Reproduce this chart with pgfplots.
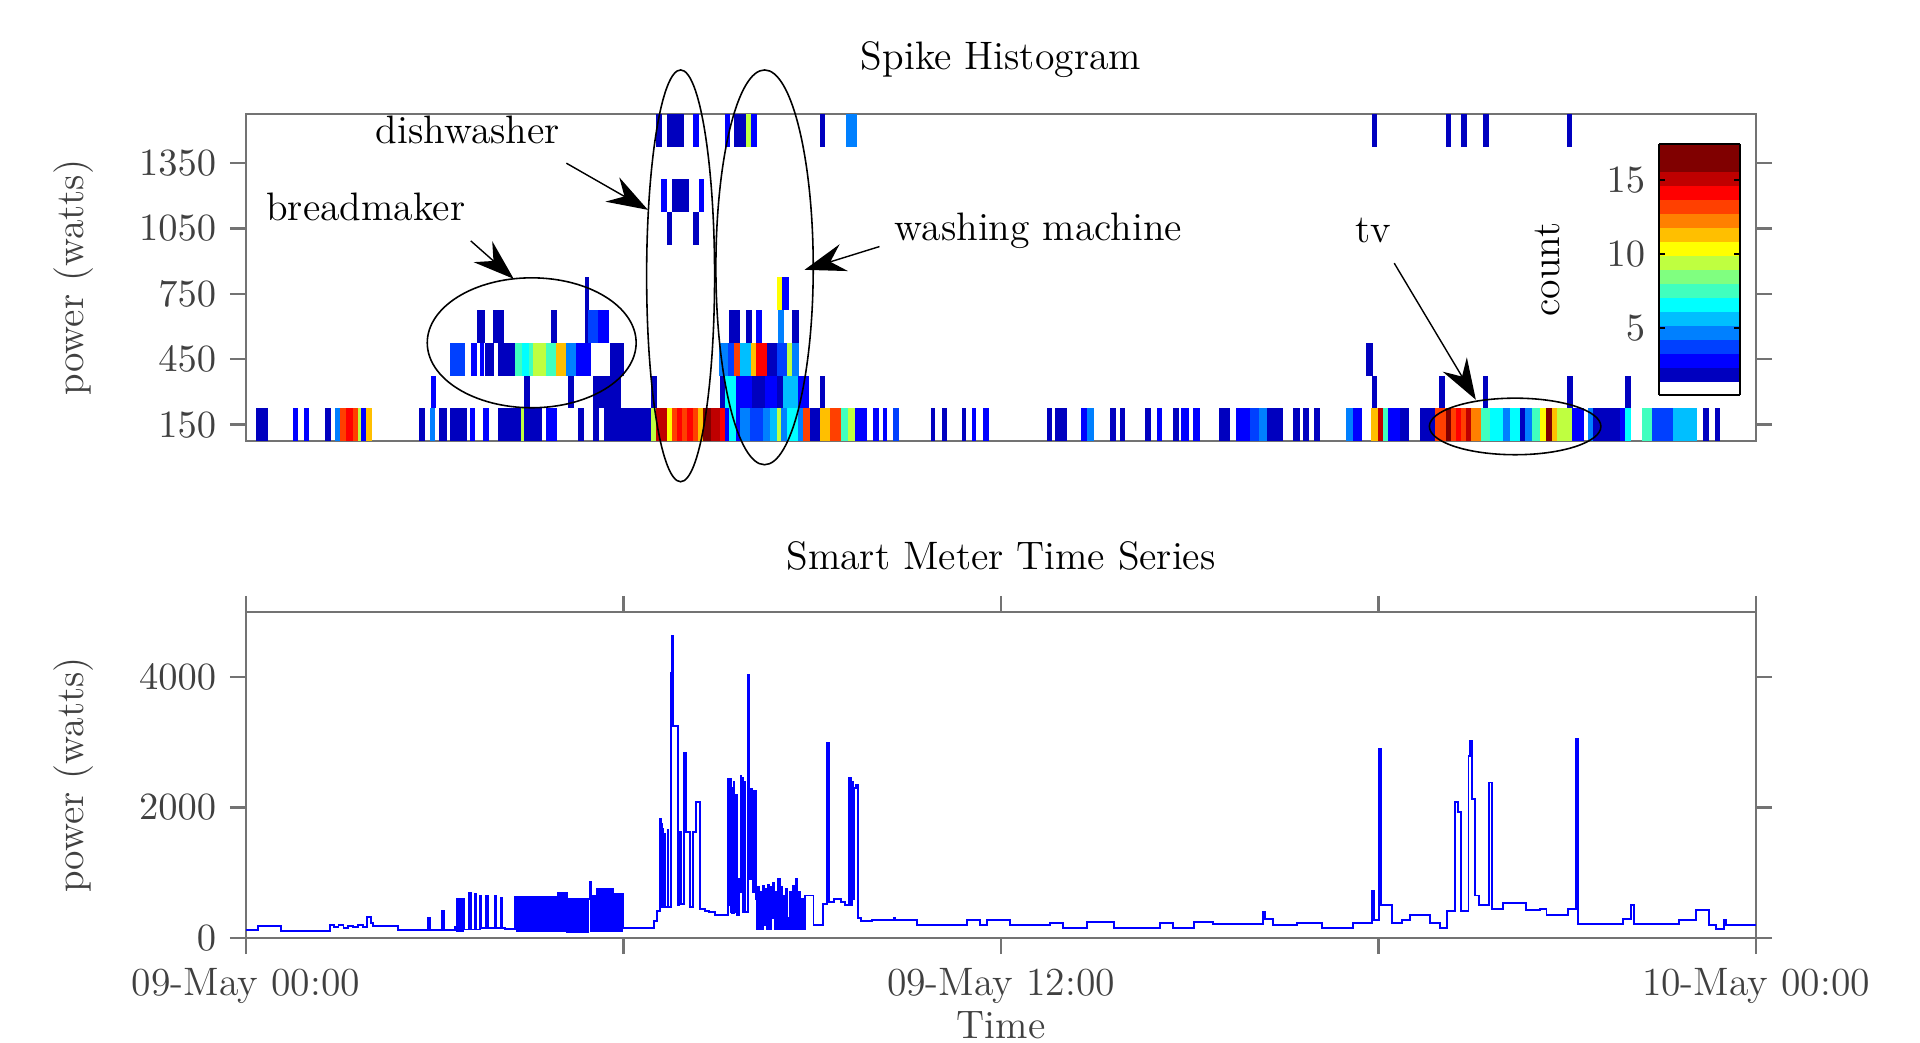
\documentclass[border=0pt]{standalone}
\usepackage{pgfplots}
\pgfplotsset{compat=1.18}
\usepackage{pgfplotstable}
\usetikzlibrary{arrows.meta,calc}
\pgfkeys{/pgf/number format/1000 sep={}}

% one histogram cell: starts at x0, width (hours -> cm), height = one 150 W row
\pgfdeclareplotmark{cell}{%
  \pgfmathsetlengthmacro\cellwl{\cellw*0.62917cm+0.008cm}%
  \pgfpathrectangle{\pgfpoint{-0.004cm}{-0.1635cm}}{\pgfpoint{\cellwl}{0.327cm}}%
  \pgfusepathqfill}

\pgfplotsset{
  colormap={whitejet}{rgb=(1,1,1) rgb=(0,0,0.75) rgb=(0,0,1) rgb=(0,0.25,1) rgb=(0,0.5,1)
    rgb=(0,0.75,1) rgb=(0,1,1) rgb=(0.25,1,0.75) rgb=(0.5,1,0.5) rgb=(0.75,1,0.25)
    rgb=(1,1,0) rgb=(1,0.75,0) rgb=(1,0.5,0) rgb=(1,0.25,0) rgb=(1,0,0) rgb=(0.75,0,0)
    rgb=(0.5,0,0) rgb=(0.5,0,0)},
  myaxis/.style={
    scale only axis, width=15.10cm, xmin=0, xmax=24,
    axis line style={draw=black!55, line width=0.7pt},
    tick style={draw=black!55, line width=0.7pt},
    tick align=outside, major tick length=0.16cm,
    tick label style={text=black!75},
    label style={text=black!75},
    every axis title shift=0pt,
    title style={text=black, at={(axis description cs:0.5,1)}, anchor=base},
    ylabel style={at={(axis description cs:-0.1139,0.5)}, anchor=center},
    scaled ticks=false,
  },
}

% histogram runs: start, end (hours), row centre (W), count
\pgfplotstableread{
x0 x1 y c
0.17 0.345 150 2
0.75 0.82 150 3
0.93 1.00 150 3
1.26 1.34 150 2
1.42 1.50 150 5
1.50 1.60 150 13
1.60 1.70 150 14
1.70 1.78 150 13
1.78 1.83 150 9
1.83 1.92 150 3
1.92 2.00 150 11
2.76 2.84 150 2
2.93 3.00 150 5
3.08 3.19 150 2
3.25 3.50 150 2
3.56 3.64 150 3
3.78 3.85 150 3
4.01 4.38 150 2
4.38 4.43 150 9
4.43 4.70 150 2
4.78 4.94 150 3
5.28 5.36 150 2
5.52 5.60 150 2
5.69 6.45 150 2
6.45 6.53 150 9
6.53 6.69 150 15
6.69 6.77 150 10
6.77 6.85 150 13
6.85 6.93 150 14
6.93 7.01 150 13
7.01 7.11 150 14
7.11 7.19 150 13
7.19 7.27 150 11
7.27 7.40 150 16
7.40 7.54 150 15
7.54 7.62 150 14
7.62 7.69 150 3
7.69 7.80 150 7
7.80 7.85 150 3
7.85 8.01 150 5
8.01 8.22 150 4
8.22 8.33 150 5
8.33 8.44 150 6
8.44 8.51 150 9
8.51 8.60 150 5
8.60 8.78 150 7
8.78 8.86 150 5
8.86 8.97 150 13
8.97 9.13 150 2
9.13 9.29 150 11
9.29 9.47 150 13
9.47 9.58 150 8
9.58 9.69 150 9
9.69 9.87 150 3
9.97 10.05 150 3
10.13 10.18 150 3
10.29 10.37 150 4
10.89 10.95 150 2
11.07 11.13 150 2
11.38 11.43 150 2
11.54 11.59 150 3
11.72 11.80 150 3
12.73 12.81 150 2
12.86 13.05 150 2
13.28 13.38 150 3
13.38 13.47 150 5
13.74 13.82 150 2
13.90 13.97 150 2
14.29 14.37 150 2
14.48 14.56 150 3
14.74 14.82 150 2
14.87 14.98 150 3
15.06 15.15 150 3
15.47 15.64 150 2
15.74 15.96 150 3
15.96 16.10 150 4
16.10 16.23 150 5
16.23 16.48 150 2
16.65 16.74 150 2
16.81 16.89 150 2
16.98 17.06 150 2
17.49 17.60 150 5
17.60 17.73 150 3
17.89 18.00 150 11
18.00 18.07 150 15
18.07 18.15 150 8
18.15 18.35 150 3
18.35 18.48 150 2
18.66 18.90 150 2
18.90 19.08 150 13
19.08 19.16 150 17
19.16 19.24 150 13
19.24 19.32 150 14
19.32 19.40 150 13
19.40 19.48 150 15
19.48 19.64 150 12
19.64 19.78 150 8
19.78 19.99 150 7
19.99 20.09 150 5
20.09 20.25 150 7
20.25 20.33 150 2
20.33 20.44 150 5
20.44 20.57 150 8
20.57 20.67 150 10
20.67 20.76 150 16
20.76 20.84 150 11
20.84 21.08 150 9
21.08 21.26 150 3
21.34 21.42 150 5
21.42 21.84 150 2
21.84 21.92 150 3
21.92 22.00 150 7
22.19 22.35 150 8
22.35 22.69 150 4
22.69 23.06 150 6
23.17 23.24 150 2
23.35 23.42 150 2
2.95 3.02 300 3
4.43 4.51 300 2
5.12 5.20 300 2
5.52 5.95 300 2
6.45 6.53 300 2
7.54 7.62 300 2
7.62 7.80 300 7
7.80 8.05 300 3
8.05 8.25 300 2
8.25 8.45 300 3
8.45 8.54 300 2
8.54 8.78 300 6
8.78 8.94 300 3
9.13 9.20 300 2
17.90 17.97 300 2
18.97 19.05 300 2
19.66 19.74 300 2
21.00 21.08 300 2
21.92 22.00 300 2
3.25 3.48 450 4
3.58 3.67 450 3
3.72 3.77 450 3
3.80 3.93 450 2
4.01 4.28 450 2
4.28 4.40 450 8
4.40 4.50 450 7
4.50 4.57 450 8
4.57 4.78 450 9
4.78 4.94 450 8
4.94 5.10 450 11
5.10 5.25 450 5
5.25 5.47 450 3
5.79 6.00 450 2
7.53 7.67 450 5
7.67 7.77 450 4
7.77 7.85 450 13
7.85 8.04 450 6
8.04 8.12 450 11
8.12 8.28 450 14
8.28 8.44 450 2
8.44 8.60 450 4
8.60 8.68 450 9
8.68 8.78 450 5
17.81 17.90 450 2
3.67 3.80 600 2
3.93 4.09 600 2
4.86 4.94 600 2
5.39 5.44 600 2
5.44 5.60 600 4
5.60 5.76 600 3
7.68 7.85 600 2
7.95 8.03 600 2
8.12 8.20 600 3
8.46 8.54 600 5
8.69 8.78 600 2
5.39 5.44 750 2
8.44 8.53 750 10
8.53 8.62 750 3
6.69 6.77 1050 2
7.11 7.19 1050 2
6.61 6.68 1200 3
6.77 7.03 1200 2
7.21 7.27 1200 3
6.53 6.61 1500 2
6.69 6.95 1500 2
7.11 7.19 1500 3
7.62 7.69 1500 3
7.77 7.96 1500 2
7.96 8.03 1500 9
8.03 8.12 1500 3
9.13 9.20 1500 2
9.55 9.71 1500 5
17.90 17.97 1500 2
19.08 19.15 1500 2
19.32 19.40 1500 2
19.66 19.75 1500 2
21.00 21.07 1500 2
}\hist

\begin{document}
\fontsize{11.3}{13.6}\selectfont
\begin{tikzpicture}
\useasboundingbox (0,0) rectangle (19.2,10.42);

\begin{axis}[myaxis, at={(2.46cm,6.01cm)}, anchor=south west, height=3.27cm,
  ymin=75, ymax=1575, xtick=\empty, ytick={150,450,750,1050,1350},
  title={Spike Histogram}, title style={yshift=0.44cm},
  ylabel={power (watts)}, axis on top,
  colormap name=whitejet, colormap access=piecewise constant,
  point meta min=0.45, point meta max=17.45,
  colorbar,
  colorbar style={
    at={($(parent axis.north east)+(-1.27cm,-0.30cm)$)}, anchor=north west,
    scale only axis, width=0.81cm, height=2.51cm,
    ytick={5,10,15}, yticklabel pos=left, ytick pos=both,
    tick align=inside, major tick length=0.06cm,
    tick style={black, line width=0.4pt},
    axis line style={black, line width=0.5pt},
    ylabel={count},
    ylabel style={at={(axis description cs:-1.383,0.5)}, anchor=center}},
  ]
\addplot[scatter, only marks, mark=cell, point meta=explicit,
  visualization depends on={\thisrow{x1}-\thisrow{x0} \as \cellw}]
  table[x=x0, y=y, meta=c] {\hist};
\end{axis}

\begin{axis}[myaxis, at={(2.46cm,1.04cm)}, anchor=south west, height=3.26cm,
  ymin=0, ymax=5000, ytick={0,2000,4000},
  xtick={0,6,12,18,24},
  xticklabels={09-May 00:00,,09-May 12:00,,10-May 00:00},
  title={Smart Meter Time Series}, title style={yshift=0.42cm},
  xlabel={Time},
  xlabel style={at={(axis description cs:0.5,0)}, anchor=base, yshift=-1.007cm},
  ylabel={power (watts)}]
\addplot[const plot, blue, line width=0.55pt] coordinates {
(0,117) (0.19,178) (0.56,107) (1.34,204) (1.40,170) (1.47,195) (1.55,160) (1.62,190)
(1.70,165) (1.78,195) (1.86,175) (1.93,321) (1.98,230) (2.02,183) (2.41,117) (2.90,306)
(2.93,117) (3.11,408) (3.14,117) (3.32,168)
(3.35,600) (3.36,110) (3.37,600) (3.38,110) (3.39,600) (3.40,110) (3.41,600) (3.42,110)
(3.43,600) (3.44,110) (3.45,600) (3.46,130) (3.55,690) (3.57,130) (3.64,680) (3.66,130)
(3.72,650) (3.74,150) (3.82,640) (3.84,150) (3.95,640) (3.97,150) (4.05,620) (4.07,150)
(4.12,143)
(4.28,627) (4.30,110) (4.32,627) (4.34,110) (4.36,627) (4.38,110) (4.40,627) (4.42,110)
(4.44,627) (4.46,110) (4.48,627) (4.50,110) (4.52,627) (4.54,110) (4.56,627) (4.58,110)
(4.60,627) (4.62,110) (4.64,627) (4.66,110) (4.68,627) (4.70,110) (4.72,627) (4.74,110)
(4.76,627) (4.78,110) (4.80,627) (4.82,110) (4.84,627) (4.86,110) (4.88,627) (4.90,110)
(4.92,627) (4.94,110) (4.96,693) (4.98,110) (5.00,693) (5.02,110) (5.04,693) (5.06,110)
(5.08,693) (5.10,92) (5.12,600) (5.14,92) (5.16,600) (5.18,92) (5.20,600) (5.22,92)
(5.24,600) (5.26,92) (5.28,600) (5.30,92) (5.32,600) (5.34,92) (5.36,600) (5.38,92)
(5.40,600) (5.42,92) (5.44,600) (5.46,856) (5.48,110) (5.50,652) (5.52,110) (5.54,652)
(5.56,110) (5.58,754) (5.60,110) (5.62,754) (5.64,110) (5.66,754) (5.68,110) (5.70,754)
(5.72,110) (5.74,754) (5.76,110) (5.78,754) (5.80,110) (5.82,754) (5.84,110) (5.86,678)
(5.88,110) (5.90,678) (5.92,110) (5.94,678) (5.96,110) (5.98,678) (6.00,153)
(6.48,255) (6.53,408) (6.58,1824) (6.59,480) (6.60,1750) (6.61,500) (6.62,1670) (6.63,480)
(6.65,1600) (6.66,480) (6.70,1650) (6.71,480) (6.76,4066) (6.77,4626) (6.79,3250) (6.86,500)
(6.88,1620) (6.92,520) (6.96,2843) (6.99,1620) (7.06,480) (7.11,1620) (7.15,2079) (7.22,448)
(7.30,420) (7.36,397) (7.45,357)
(7.66,2435) (7.67,500) (7.68,2400) (7.69,600) (7.70,2435) (7.71,400) (7.72,2300) (7.73,380)
(7.75,2400) (7.76,400) (7.78,2200) (7.80,357) (7.84,900) (7.86,2486) (7.87,700) (7.88,2450)
(7.90,400) (7.92,2400) (7.93,400) (7.98,4040) (8.00,2282) (8.01,900) (8.03,2282) (8.05,700)
(8.07,2250) (8.10,600)
(8.12,143) (8.14,780) (8.16,143) (8.18,700) (8.20,143) (8.22,800) (8.24,200) (8.26,750)
(8.28,143) (8.30,820) (8.32,143) (8.34,780) (8.36,300) (8.38,850) (8.40,143) (8.42,700)
(8.44,143) (8.46,900) (8.48,143) (8.50,780) (8.52,143) (8.54,650) (8.56,143) (8.58,750)
(8.60,300) (8.62,143) (8.64,700) (8.66,143) (8.70,800) (8.72,143) (8.74,900) (8.76,143)
(8.78,700) (8.80,143) (8.84,600) (8.85,143) (8.88,652) (8.99,652)
(9.02,194) (9.17,525) (9.24,2996) (9.27,550) (9.35,600) (9.45,550) (9.52,500) (9.59,2461)
(9.61,500) (9.63,2400) (9.65,600) (9.67,2300) (9.70,2350) (9.72,306) (9.78,255) (9.95,270)
(10.20,275) (10.30,300) (10.32,270) (10.66,194)
(11.46,270) (11.67,194) (11.78,270) (12.15,194) (12.78,229) (12.99,158) (13.37,245) (13.79,158)
(14.53,229) (14.74,158) (15.06,245) (15.37,219) (16.17,397) (16.20,296) (16.33,204) (16.71,229)
(17.10,153) (17.60,234) (17.90,729) (17.93,270) (18.01,2894) (18.04,500) (18.22,229) (18.38,270)
(18.50,346) (18.82,229) (18.98,153) (19.09,408) (19.22,2079) (19.26,1926) (19.31,408) (19.43,2792)
(19.46,3021) (19.49,2130) (19.53,652) (19.60,500) (19.76,2385) (19.80,448) (19.98,540) (20.35,433)
(20.56,448) (20.67,357) (21.01,448) (21.14,3046) (21.17,219) (21.89,296) (22.02,500) (22.06,219)
(22.78,270) (23.04,433) (23.25,204) (23.36,143) (23.49,270) (23.52,204) (24,204)
};
\end{axis}

% annotations, in picture pixels (origin top left)
\begin{scope}[x=0.01cm, y=-0.01cm, shift={(0,10.42cm)}, line width=0.45pt,
  harrow/.style={line width=0.4pt, -{Stealth[length=0.41cm, width=0.28cm, inset=0.14cm]}}]
  \draw (532,343) ellipse [x radius=104.5, y radius=65];
  \draw (681,276) ellipse [x radius=34, y radius=206];
  \draw (765,267.5) ellipse [x radius=48.7, y radius=197.5];
  \draw (1516,426.7) ellipse [x radius=85.8, y radius=28.3];
  \draw[harrow] (566.7,163.3) -- (648.3,210);
  \draw[harrow] (471,241) -- (514,279);
  \draw[harrow] (880,246.7) -- (805,270);
  \draw[harrow] (1395,263.3) -- (1476.7,400);
  \node[anchor=base, inner sep=0pt] at (468,144) {dishwasher};
  \node[anchor=base, inner sep=0pt] at (366,221) {breadmaker};
  \node[anchor=base, inner sep=0pt] at (1039,240.5) {washing machine};
  \node[anchor=base, inner sep=0pt] at (1374,243) {tv};
\end{scope}
\end{tikzpicture}
\end{document}
